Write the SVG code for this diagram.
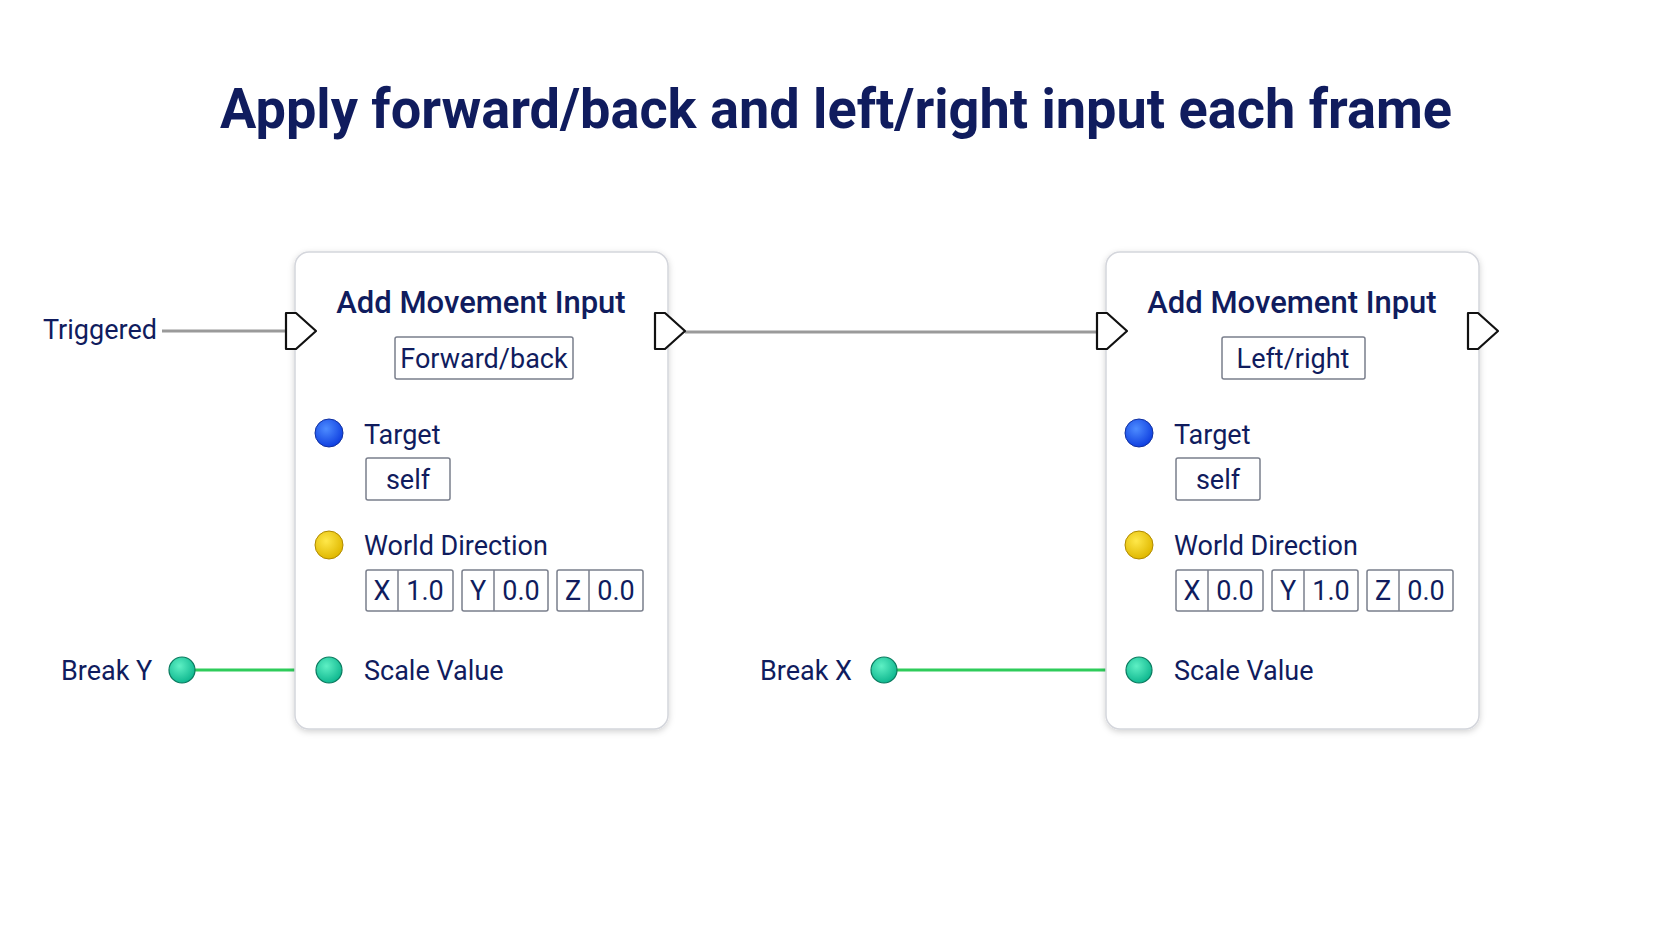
<svg xmlns="http://www.w3.org/2000/svg" width="1672" height="941" viewBox="0 0 1672 941">
<defs>
<filter id="sh" x="-10%" y="-10%" width="120%" height="120%"><feDropShadow dx="0" dy="2" stdDeviation="3" flood-color="#000" flood-opacity="0.18"/></filter>
<radialGradient id="gb" cx="40%" cy="35%" r="65%"><stop offset="0" stop-color="#4d8cff"/><stop offset="1" stop-color="#1040e0"/></radialGradient>
<radialGradient id="gy" cx="40%" cy="35%" r="65%"><stop offset="0" stop-color="#ffe84a"/><stop offset="1" stop-color="#e0b800"/></radialGradient>
<radialGradient id="gt" cx="40%" cy="35%" r="65%"><stop offset="0" stop-color="#5ef0c4"/><stop offset="1" stop-color="#10b890"/></radialGradient>
</defs>
<style>
text{font-family:Roboto,"Liberation Sans",sans-serif;fill:#101c5e}
.lbl{font-size:27px}
.ttl{font-size:31px;font-weight:500;text-anchor:middle}
.box{fill:#fff;stroke:#7a7f8c;stroke-width:1.5}
.c{text-anchor:middle}
.node{fill:#fff;stroke:#d4d6dc;stroke-width:1.5;filter:url(#sh)}
.exec{fill:#fff;stroke:#111;stroke-width:2.2;stroke-linejoin:round}
.pin{stroke:#0a7a5e;stroke-width:1.2}
</style>
<rect width="1672" height="941" fill="#fff"/>
<text x="836" y="128" font-size="56" font-weight="700" text-anchor="middle" textLength="1232" lengthAdjust="spacingAndGlyphs">Apply forward/back and left/right input each frame</text>
<g id="connectors">
<line x1="162" y1="331" x2="286" y2="331" stroke="#9a9a9a" stroke-width="3"/>
<line x1="685" y1="332" x2="1097" y2="332" stroke="#9a9a9a" stroke-width="3"/>
<line x1="182" y1="670" x2="329" y2="670" stroke="#2ecc5a" stroke-width="3"/>
<line x1="884" y1="670" x2="1139" y2="670" stroke="#2ecc5a" stroke-width="3"/>
</g>
<g id="triggered"><text class="lbl" x="43" y="339">Triggered</text></g>
<g id="breakY"><text class="lbl" x="61" y="680">Break Y</text><circle class="pin" cx="182" cy="670" r="13" fill="url(#gt)"/></g>
<g id="breakX"><text class="lbl" x="760" y="680">Break X</text><circle class="pin" cx="884" cy="670" r="13" fill="url(#gt)"/></g>
<g id="node1">
<rect class="node" x="295" y="252" width="373" height="477" rx="14"/>
<path class="exec" d="M286 313 L296 313 L316 331 L296 349 L286 349 Z"/>
<path class="exec" d="M655 313 L665 313 L685 331 L665 349 L655 349 Z"/>
<text class="ttl" x="481" y="313">Add Movement Input</text>
<rect class="box" x="395" y="337" width="178" height="42" rx="2"/><text class="lbl c" x="484" y="368">Forward/back</text>
<circle cx="329" cy="433" r="14" fill="url(#gb)" stroke="#1030a0" stroke-width="1"/><text class="lbl" x="364" y="444">Target</text>
<rect class="box" x="366" y="458" width="84" height="42" rx="2"/><text class="lbl c" x="408" y="489">self</text>
<circle cx="329" cy="545" r="14" fill="url(#gy)" stroke="#b08a00" stroke-width="1"/><text class="lbl" x="364" y="555">World Direction</text>
<rect class="box" x="366" y="570" width="87" height="41" rx="2"/><line class="box" x1="398" y1="570" x2="398" y2="611"/><text class="lbl c" x="382" y="600">X</text><text class="lbl c" x="425" y="600">1.0</text>
<rect class="box" x="462" y="570" width="86" height="41" rx="2"/><line class="box" x1="494" y1="570" x2="494" y2="611"/><text class="lbl c" x="478" y="600">Y</text><text class="lbl c" x="521" y="600">0.0</text>
<rect class="box" x="557" y="570" width="86" height="41" rx="2"/><line class="box" x1="589" y1="570" x2="589" y2="611"/><text class="lbl c" x="573" y="600">Z</text><text class="lbl c" x="616" y="600">0.0</text>
<circle class="pin" cx="329" cy="670" r="13" fill="url(#gt)"/><text class="lbl" x="364" y="680">Scale Value</text>
</g>
<g id="node2">
<rect class="node" x="1106" y="252" width="373" height="477" rx="14"/>
<path class="exec" d="M1097 313 L1107 313 L1127 331 L1107 349 L1097 349 Z"/>
<path class="exec" d="M1468 313 L1478 313 L1498 331 L1478 349 L1468 349 Z"/>
<text class="ttl" x="1292" y="313">Add Movement Input</text>
<rect class="box" x="1222" y="337" width="143" height="42" rx="2"/><text class="lbl c" x="1293" y="368">Left/right</text>
<circle cx="1139" cy="433" r="14" fill="url(#gb)" stroke="#1030a0" stroke-width="1"/><text class="lbl" x="1174" y="444">Target</text>
<rect class="box" x="1176" y="458" width="84" height="42" rx="2"/><text class="lbl c" x="1218" y="489">self</text>
<circle cx="1139" cy="545" r="14" fill="url(#gy)" stroke="#b08a00" stroke-width="1"/><text class="lbl" x="1174" y="555">World Direction</text>
<rect class="box" x="1176" y="570" width="87" height="41" rx="2"/><line class="box" x1="1208" y1="570" x2="1208" y2="611"/><text class="lbl c" x="1192" y="600">X</text><text class="lbl c" x="1235" y="600">0.0</text>
<rect class="box" x="1272" y="570" width="86" height="41" rx="2"/><line class="box" x1="1304" y1="570" x2="1304" y2="611"/><text class="lbl c" x="1288" y="600">Y</text><text class="lbl c" x="1331" y="600">1.0</text>
<rect class="box" x="1367" y="570" width="86" height="41" rx="2"/><line class="box" x1="1399" y1="570" x2="1399" y2="611"/><text class="lbl c" x="1383" y="600">Z</text><text class="lbl c" x="1426" y="600">0.0</text>
<circle class="pin" cx="1139" cy="670" r="13" fill="url(#gt)"/><text class="lbl" x="1174" y="680">Scale Value</text>
</g>
</svg>
